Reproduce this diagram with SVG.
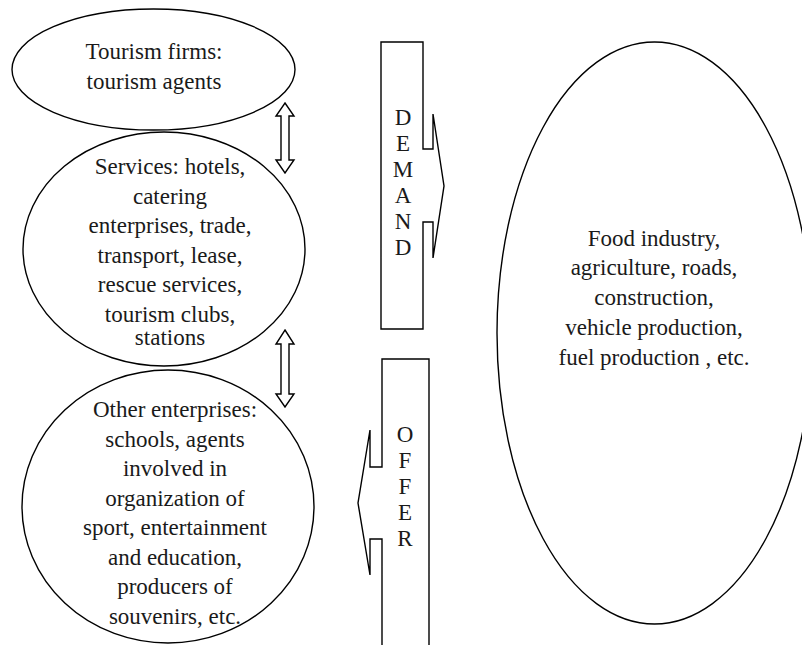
<svg xmlns="http://www.w3.org/2000/svg" width="802" height="645" viewBox="0 0 802 645">
<style>
.shape{fill:#fff;stroke:#000;stroke-width:1.4}
text{font-family:'Liberation Serif','Times New Roman',Times,serif;font-size:23px;fill:#1a1a1a;text-anchor:middle}
</style>
<rect width="802" height="645" fill="#fff"/>
<g id="node-tourism-firms" font-family="Liberation Serif, serif">
<ellipse class="shape" cx="153.5" cy="69.5" rx="141.5" ry="60.5"/>
<text x="154" y="59">Tourism firms:</text>
<text x="154" y="89">tourism agents</text>
</g>
<g id="node-services" font-family="Liberation Serif, serif">
<ellipse class="shape" cx="164" cy="249" rx="141" ry="117"/>
<text x="170" y="174">Services: hotels,</text>
<text x="170" y="204">catering</text>
<text x="170" y="233">enterprises, trade,</text>
<text x="170" y="263">transport, lease,</text>
<text x="170" y="292">rescue services,</text>
<text x="170" y="322">tourism clubs,</text>
<text x="170" y="345">stations</text>
</g>
<g id="node-other" font-family="Liberation Serif, serif">
<ellipse class="shape" cx="168" cy="506.5" rx="146" ry="136.5"/>
<text x="175" y="417">Other enterprises:</text>
<text x="175" y="447">schools, agents</text>
<text x="175" y="476">involved in</text>
<text x="175" y="506">organization of</text>
<text x="175" y="535">sport, entertainment</text>
<text x="175" y="565">and education,</text>
<text x="175" y="594">producers of</text>
<text x="175" y="624">souvenirs, etc.</text>
</g>
<g id="node-food" font-family="Liberation Serif, serif">
<ellipse class="shape" cx="654.5" cy="333" rx="157.5" ry="291"/>
<text x="654" y="246">Food industry,</text>
<text x="654" y="275">agriculture, roads,</text>
<text x="654" y="305">construction,</text>
<text x="654" y="335">vehicle production,</text>
<text x="654" y="365">fuel production , etc.</text>
</g>
<g id="node-demand" font-family="Liberation Serif, serif">
<path class="shape" d="M381,42 H423 V149 H433 V114 L444,186 L433,258 V222 H423 V329 H381 Z"/>
<text x="403" y="125">D</text>
<text x="403" y="151">E</text>
<text x="403" y="177">M</text>
<text x="403" y="203">A</text>
<text x="403" y="229">N</text>
<text x="403" y="255">D</text>
</g>
<g id="node-offer" font-family="Liberation Serif, serif">
<path class="shape" d="M382,660 V539 H370 V575 L358,503 L370,430 V467 H382 V359 H429 V660"/>
<text x="405" y="442">O</text>
<text x="405" y="468">F</text>
<text x="405" y="494">F</text>
<text x="405" y="520">E</text>
<text x="405" y="546">R</text>
</g>
<g id="connectors">
<path class="shape" d="M285,103 L294,116 H289 V160 H294 L285,173 L276,160 H281 V116 H276 Z"/>
<path class="shape" d="M285,330 L294,344 H289 V394 H294 L285,407 L276,394 H281 V344 H276 Z"/>
</g>
</svg>
